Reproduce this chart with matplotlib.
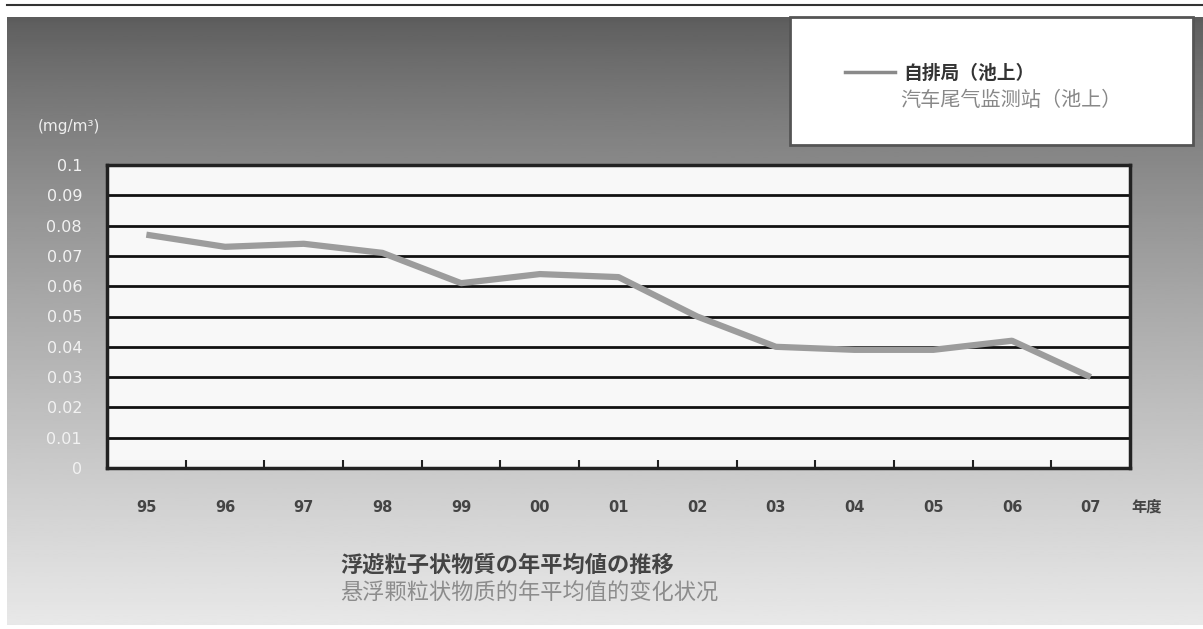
import numpy as np
import matplotlib.pyplot as plt
from matplotlib.lines import Line2D
from matplotlib.patches import Rectangle

years = ['95', '96', '97', '98', '99', '00', '01', '02', '03', '04', '05', '06', '07']
spm = [0.077, 0.073, 0.074, 0.071, 0.061, 0.064, 0.063, 0.050, 0.040, 0.039, 0.039, 0.042, 0.030]
yticks = [0, 0.01, 0.02, 0.03, 0.04, 0.05, 0.06, 0.07, 0.08, 0.09, 0.1]
ytick_labels = ['0', '0.01', '0.02', '0.03', '0.04', '0.05', '0.06', '0.07', '0.08', '0.09', '0.1']

legend_jp = '自排局（池上）'
legend_cn = '汽车尾气监测站（池上）'
title_jp = '浮遊粒子状物質の年平均値の推移'
title_cn = '悬浮颗粒状物质的年平均值的变化状况'

jp_font = ['Noto Sans CJK JP', 'DejaVu Sans']
cn_font = ['Noto Sans CJK SC', 'DejaVu Sans']
plt.rcParams['font.family'] = jp_font

W, H = 1203, 629
fig = plt.figure(figsize=(W / 100, H / 100), dpi=100)
fig.patch.set_facecolor('white')

# background gradient panel
bg = fig.add_axes([0, 0, 1, 1])
bg.set_xlim(0, W)
bg.set_ylim(H, 0)
bg.axis('off')
grad = np.linspace(0.0, 1.0, 256).reshape(-1, 1)
grad = 0.36 + 0.55 * grad ** 0.8
bg.imshow(grad, cmap='gray', vmin=0, vmax=1, aspect='auto',
          extent=(7, W, 625, 17), zorder=0)
bg.plot([7, W], [5, 5], color='#333333', lw=1.5)

# legend box
bg.add_patch(Rectangle((790, 17), 403, 128, facecolor='white',
                       edgecolor='#555555', lw=2, zorder=2))
bg.add_line(Line2D([845, 895], [72, 72], color='#8a8a8a', lw=2.5, zorder=3))
bg.text(903, 73, legend_jp, fontsize=13.5, fontweight='bold', color='#333333',
        va='center', ha='left', zorder=3)
bg.text(900, 101, legend_cn, fontsize=14.5, color='#888888', va='center',
        ha='left', family=cn_font, zorder=3)

# units and x axis name
bg.text(38, 127, '(mg/m³)', fontsize=11, color='#eeeeee', va='center', ha='left',
        family=['DejaVu Sans'])
bg.text(1131, 507, '年度', fontsize=11, fontweight='bold', color='#444444',
        va='center', ha='left')

# caption
bg.text(340, 565, title_jp, fontsize=16, fontweight='bold', color='#444444',
        va='center', ha='left')
bg.text(340, 593, title_cn, fontsize=16, color='#8c8c8c', va='center',
        ha='left', family=cn_font)

# main chart
ax = fig.add_axes([107 / W, 1 - 468 / H, 1023 / W, 303 / H])
ax.set_facecolor('#f8f8f8')
x = np.arange(len(years))
for v in yticks[1:-1]:
    ax.axhline(v, color='#111111', lw=2, zorder=1)
ax.plot(x, spm, color='#9c9c9c', lw=4.5, solid_capstyle='butt', zorder=2)

ax.set_xlim(-0.5, len(years) - 0.5)
ax.set_ylim(0, 0.1)
ax.set_yticks(yticks)
ax.set_yticklabels(ytick_labels, color='#f2f2f2', fontsize=11.5,
                   family=['DejaVu Sans'])
ax.tick_params(axis='y', length=0, pad=18)
ax.set_xticks(x)
ax.set_xticklabels(years, color='#444444', fontsize=10.5, fontweight='bold',
                   family=['DejaVu Sans'])
ax.tick_params(axis='x', length=0, pad=23)
ax.set_xticks(np.arange(0.5, len(years) - 1, 1), minor=True)
ax.tick_params(axis='x', which='minor', direction='in', length=6, width=1.5,
               color='#222222')
for s in ax.spines.values():
    s.set_color('#222222')
    s.set_linewidth(2.5)

fig.savefig('out.png', dpi=100)
